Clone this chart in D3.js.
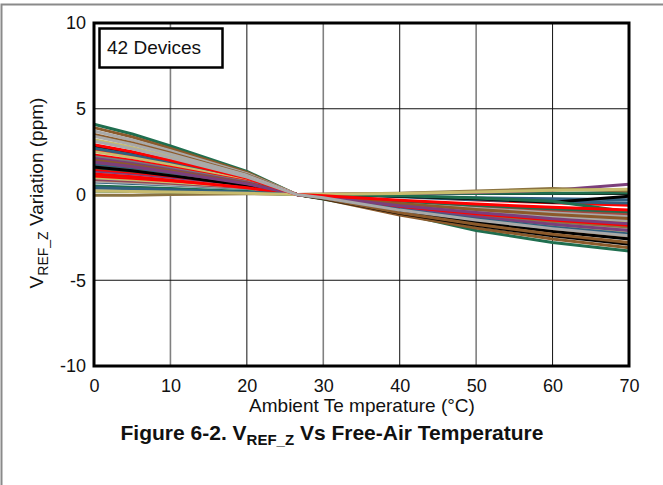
<!DOCTYPE html>
<html><head><meta charset="utf-8">
<script src="https://cdn.jsdelivr.net/npm/d3@7"></script>
<style>body{margin:0;background:#fff}svg{display:block}text{font-family:"Liberation Sans",Arial,sans-serif}</style>
</head><body><svg id="c" width="663" height="485"></svg>
<script>
const temps = [0, 5, 10, 20, 26.5, 30, 40, 50, 60, 70];
const xTicks = [0, 10, 20, 30, 40, 50, 60, 70];
const yTicks = [-10, -5, 0, 5, 10];
const palette = {
  green:"#1F6E4F", brown:"#8B5A2B", gray:"#A9A9A9", khaki:"#C8BC6E", white:"#FFFFFF",
  black:"#000000", red:"#FF0000", blue:"#2F5F7F", dgray:"#7A7A7A", purple:"#7B3F7B",
  dred:"#A34A3F", olive:"#8B7340"
};
const seriesColors = ["green","brown","gray","brown","khaki","gray","white","black","red","blue",
  "khaki","red","dgray","purple","black","dred","blue","olive","green","red",
  "purple","gray","brown","red","khaki","purple","dred","gray","blue","white",
  "green","black","olive","green","gray","red","brown","blue","purple","khaki","red","gray"];
const s01 = [4.1, 3.53, 2.83, 1.35, 0, -0.26, -1.1, -2.1, -2.8, -3.3];
const s02 = [3.9, 3.35, 2.69, 1.29, 0, -0.25, -1.2, -1.95, -2.6, -3.1];
const s03 = [3.7, 3.18, 2.55, 1.22, 0, -0.14, -0.68, -1.12, -1.5, -1.8];
const s04 = [3.5, 3.01, 2.42, 1.16, 0, -0.2, -0.95, -1.55, -2.08, -2.5];
const s05 = [3.2, 2.75, 2.21, 1.06, 0, -0.12, -0.57, -0.93, -1.25, -1.5];
const s06 = [3.4, 2.92, 2.35, 1.12, 0, -0.16, -0.76, -1.24, -1.66, -2.0];
const s07 = [3.0, 2.58, 2.07, 0.99, 0, -0.08, -0.38, -0.62, -0.83, -1.0];
const s08 = [2.8, 2.41, 1.93, 0.92, 0, -0.23, -1.1, -1.8, -2.4, -2.9];
const s09 = [2.6, 2.24, 1.79, 0.86, 0, -0.05, -0.23, -0.37, -0.5, -0.6];
const s10 = [2.7, 2.32, 1.86, 0.89, 0, -0.1, -0.49, -0.81, -1.08, -1.3];
const s11 = [2.5, 2.15, 1.73, 0.83, 0, -0.18, -0.84, -1.36, -1.83, -2.2];
const s12 = [2.3, 1.98, 1.59, 0.76, 0, -0.08, -0.38, -0.62, -0.83, -1.0];
const s13 = [2.2, 1.89, 1.52, 0.73, 0, -0.14, -0.65, -1.05, -1.41, -1.7];
const s14 = [2.1, 1.81, 1.45, 0.69, 0, -0.06, -0.3, -0.5, -0.66, -0.8];
const s15 = [1.9, 1.63, 1.31, 0.63, 0, -0.21, -0.99, -1.61, -2.16, -2.6];
const s16 = [1.8, 1.55, 1.24, 0.59, 0, -0.1, -0.46, -0.74, -1.0, -1.2];
const s17 = [1.7, 1.46, 1.17, 0.56, 0, -0.02, -0.11, -0.19, -0.25, -0.3];
const s18 = [1.6, 1.38, 1.1, 0.53, 0, -0.15, -0.72, -1.18, -1.58, -1.9];
const s19 = [1.5, 1.29, 1.04, 0.5, 0, 0.0, 0.03, 0.06, 0.08, 0.1];
const s20 = [1.4, 1.2, 0.97, 0.46, 0, -0.11, -0.53, -0.87, -1.16, -1.4];
const s21 = [1.3, 1.12, 0.9, 0.43, 0, -0.17, -0.8, -1.3, -1.74, -2.1];
const s22 = [1.2, 1.03, 0.83, 0.4, 0, -0.07, -0.34, -0.56, -0.75, -0.9];
const s23 = [1.1, 0.95, 0.76, 0.36, 0, -0.22, -1.06, -1.74, -2.32, -2.8];
const s24 = [1.0, 0.86, 0.69, 0.33, 0, -0.06, -0.27, -0.43, -0.58, -0.7];
const s25 = [0.9, 0.77, 0.62, 0.3, 0, -0.13, -0.61, -0.99, -1.33, -1.6];
const s26 = [0.8, 0.69, 0.55, 0.26, 0, 0.01, 0.06, 0.12, 0.25, 0.6];
const s27 = [0.75, 0.65, 0.52, 0.25, 0, -0.09, -0.42, -0.68, -0.91, -1.1];
const s28 = [0.7, 0.6, 0.48, 0.23, 0, -0.1, -0.49, -0.81, -1.08, -1.3];
const s29 = [0.6, 0.52, 0.41, 0.2, 0, -0.04, -0.19, -0.31, -0.42, -0.5];
const s30 = [0.55, 0.47, 0.38, 0.18, 0, -0.06, -0.3, -0.5, -0.66, -0.8];
const s31 = [0.5, 0.43, 0.35, 0.17, 0, -0.08, -0.38, -0.62, -0.83, -1.0];
const s32 = [1.6, 1.38, 1.1, 0.53, 0, -0.01, -0.1, -0.25, -0.45, -0.1];
const s33 = [-0.05, -0.04, 0.0, 0.05, 0, 0.01, 0.08, 0.2, 0.35, 0.2];
const s34 = [0.2, 0.18, 0.16, 0.12, 0, -0.01, -0.08, -0.2, -0.4, -1.0];
const s35 = [0.3, 0.26, 0.2, 0.1, 0, -0.12, -0.57, -0.93, -1.25, -1.5];
const s36 = [1.2, 1.03, 0.83, 0.4, 0, -0.14, -0.68, -1.12, -1.49, -1.8];
const s37 = [2.0, 1.72, 1.38, 0.66, 0, -0.11, -0.53, -0.87, -1.16, -1.4];
const s38 = [0.4, 0.34, 0.28, 0.13, 0, -0.18, -0.87, -1.43, -1.91, -2.3];
const s39 = [1.9, 1.63, 1.31, 0.63, 0, -0.14, -0.65, -1.05, -1.41, -1.7];
const s40 = [0.2, 0.17, 0.14, 0.07, 0, 0.01, 0.06, 0.15, 0.25, 0.3];
const s41 = [2.9, 2.49, 2.0, 0.96, 0, -0.07, -0.34, -0.56, -0.75, -0.9];
const s42 = [3.1, 2.67, 2.14, 1.02, 0, -0.19, -0.91, -1.49, -1.99, -2.4];
const series = [s01,s02,s03,s04,s05,s06,s07,s08,s09,s10,s11,s12,s13,s14,s15,s16,s17,s18,s19,s20,
  s21,s22,s23,s24,s25,s26,s27,s28,s29,s30,s31,s32,s33,s34,s35,s36,s37,s38,s39,s40,s41,s42];

const svg = d3.select("#c");
const L = 94, R = 629, T = 23, B = 366;
const x = d3.scaleLinear().domain([0, 70]).range([L, R]);
const y = d3.scaleLinear().domain([-10, 10]).range([B, T]);
const FONT = "'Liberation Sans',Arial,sans-serif";

// outer frame
svg.append("path").attr("d", "M1.5,485 L1.5,4.5 L663,4.5").attr("fill","none").attr("stroke","#8a8a8a").attr("stroke-width",2);

// grid (alternating gray / black vertical lines as in the reference)
svg.append("g").selectAll("line").data(xTicks.slice(1, -1)).join("line")
  .attr("x1", d => x(d)).attr("x2", d => x(d)).attr("y1", T).attr("y2", B)
  .attr("stroke", (d, i) => i % 2 === 0 ? "#808080" : "#111")
  .attr("stroke-width", (d, i) => i % 2 === 0 ? 1.6 : 1);
svg.append("g").selectAll("line").data(yTicks.slice(1, -1)).join("line")
  .attr("x1", L).attr("x2", R).attr("y1", d => y(d)).attr("y2", d => y(d))
  .attr("stroke", "#111").attr("stroke-width", 1);

// curves
const line = d3.line().x((d, i) => x(temps[i])).y(d => y(d));
const cg = svg.append("g");
series.forEach((s, i) => {
  cg.append("path").attr("d", line(s)).attr("fill", "none")
    .attr("stroke", palette[seriesColors[i]]).attr("stroke-width", 3).attr("stroke-linejoin","round");
});

// plot frame
svg.append("rect").attr("x", L).attr("y", T).attr("width", R - L).attr("height", B - T)
  .attr("fill", "none").attr("stroke", "#000").attr("stroke-width", 3);

// axes tick labels
const fmt = d => String(d);
const xAxis = d3.axisBottom(x).tickValues(xTicks).tickSize(0).tickPadding(13).tickFormat(fmt);
const gx = svg.append("g").attr("transform", `translate(0,${B})`).call(xAxis);
gx.select(".domain").remove();
gx.selectAll("text").attr("font-size", 18).attr("fill", "#111").style("font-family", FONT);
const yAxis = d3.axisLeft(y).tickValues(yTicks).tickSize(0).tickPadding(8).tickFormat(fmt);
const gy = svg.append("g").attr("transform", `translate(${L},0)`).call(yAxis);
gy.select(".domain").remove();
gy.selectAll("text").attr("font-size", 18).attr("fill", "#111").style("font-family", FONT);

// axis titles
svg.append("text").attr("x", 362).attr("y", 412).attr("text-anchor", "middle")
  .attr("font-size", 19).attr("fill", "#111").text("Ambient Te mperature (°C)");
const yl = svg.append("text").attr("transform", "translate(43,193) rotate(-90)")
  .attr("text-anchor", "middle").attr("font-size", 19).attr("fill", "#111");
yl.append("tspan").text("V");
yl.append("tspan").attr("font-size", 14).attr("dy", 5).text("REF_Z");
yl.append("tspan").attr("dy", -5).text(" Variation (ppm)");

// caption
const cap = svg.append("text").attr("x", 332).attr("y", 440).attr("text-anchor", "middle")
  .attr("font-size", 21).attr("font-weight", "bold").attr("fill", "#111");
cap.append("tspan").text("Figure 6-2. V");
cap.append("tspan").attr("font-size", 15).attr("dy", 5).text("REF_Z");
cap.append("tspan").attr("dy", -5).text(" Vs Free-Air Temperature");

// legend box
svg.append("rect").attr("x", 99.5).attr("y", 28.5).attr("width", 123).attr("height", 39)
  .attr("fill", "#fff").attr("stroke", "#000").attr("stroke-width", 2.5);
svg.append("text").attr("x", 107).attr("y", 54).attr("font-size", 19).attr("fill", "#111").text("42 Devices");
</script></body></html>
